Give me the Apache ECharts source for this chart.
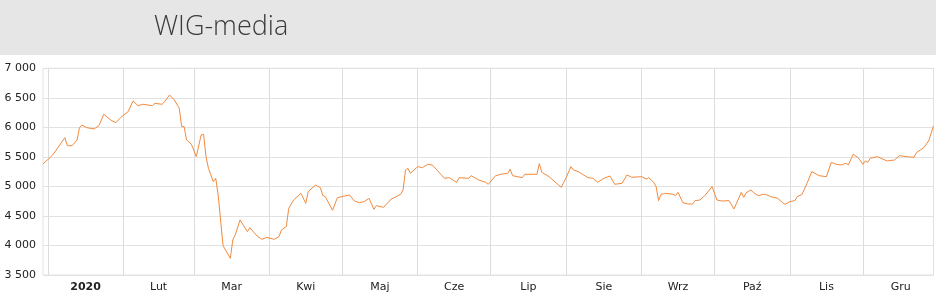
<!DOCTYPE html>
<html>
<head>
<meta charset="utf-8">
<script src="https://cdn.jsdelivr.net/npm/echarts@6/dist/echarts.min.js"></script>
<style>
html,body{margin:0;padding:0;background:#fff;}
#chart{width:936px;height:299px;}
</style>
</head>
<body>
<div id="chart"></div>
<script>
const TITLE = 'WIG-media';
const monthLabels = ['2020','Lut','Mar','Kwi','Maj','Cze','Lip','Sie','Wrz','Paź','Lis','Gru'];
const yTicks = [3500, 4000, 4500, 5000, 5500, 6000, 6500, 7000];
const dates = [
'2019-12-30','2020-01-03','2020-01-08','2020-01-09','2020-01-11','2020-01-13','2020-01-14','2020-01-15','2020-01-17','2020-01-20',
'2020-01-22','2020-01-24','2020-01-27','2020-01-29','2020-01-31','2020-02-03','2020-02-05','2020-02-07','2020-02-09','2020-02-13',
'2020-02-14','2020-02-17','2020-02-18','2020-02-20','2020-02-22','2020-02-24','2020-02-25','2020-02-26','2020-02-27','2020-02-29',
'2020-03-02','2020-03-04','2020-03-05','2020-03-06','2020-03-07','2020-03-09','2020-03-10','2020-03-11','2020-03-13','2020-03-16',
'2020-03-17','2020-03-18','2020-03-20','2020-03-23','2020-03-24','2020-03-27','2020-03-29','2020-03-31','2020-04-03','2020-04-05',
'2020-04-06','2020-04-08','2020-04-09','2020-04-11','2020-04-14','2020-04-16','2020-04-17','2020-04-20','2020-04-22','2020-04-23',
'2020-04-24','2020-04-27','2020-04-29','2020-05-04','2020-05-06','2020-05-08','2020-05-10','2020-05-12','2020-05-14','2020-05-15',
'2020-05-18','2020-05-21','2020-05-25','2020-05-26','2020-05-27','2020-05-28','2020-05-29','2020-06-01','2020-06-03','2020-06-05',
'2020-06-07','2020-06-12','2020-06-14','2020-06-17','2020-06-18','2020-06-22','2020-06-23','2020-06-26','2020-06-29','2020-06-30',
'2020-07-03','2020-07-06','2020-07-08','2020-07-09','2020-07-10','2020-07-14','2020-07-15','2020-07-20','2020-07-21','2020-07-22',
'2020-07-25','2020-07-27','2020-07-30','2020-08-01','2020-08-03','2020-08-04','2020-08-06','2020-08-10','2020-08-12','2020-08-14',
'2020-08-16','2020-08-19','2020-08-21','2020-08-24','2020-08-26','2020-08-28','2020-09-01','2020-09-03','2020-09-04','2020-09-06',
'2020-09-07','2020-09-08','2020-09-09','2020-09-11','2020-09-14','2020-09-15','2020-09-16','2020-09-18','2020-09-20','2020-09-22',
'2020-09-23','2020-09-25','2020-09-27','2020-09-30','2020-10-02','2020-10-04','2020-10-07','2020-10-09','2020-10-12','2020-10-13',
'2020-10-14','2020-10-16','2020-10-17','2020-10-19','2020-10-21','2020-10-22','2020-10-24','2020-10-27','2020-10-29','2020-10-30',
'2020-11-01','2020-11-03','2020-11-04','2020-11-06','2020-11-08','2020-11-10','2020-11-13','2020-11-16','2020-11-18','2020-11-20',
'2020-11-22','2020-11-24','2020-11-25','2020-11-27','2020-11-29','2020-12-01','2020-12-02','2020-12-03','2020-12-04','2020-12-07',
'2020-12-09','2020-12-11','2020-12-14','2020-12-16','2020-12-19','2020-12-22','2020-12-23','2020-12-26','2020-12-28','2020-12-30'
];
const values = [
5380,5532,5826,5690,5690,5786,5995,6040,5995,5973,
6030,6221,6119,6080,6170,6266,6447,6368,6390,6368,
6407,6390,6435,6548,6464,6323,6012,6012,5786,5713,
5504,5871,5882,5504,5306,5081,5137,4855,3997,3782,
4093,4178,4432,4234,4302,4160,4104,4138,4104,4150,
4262,4319,4629,4770,4883,4714,4911,5024,4979,4844,
4827,4595,4810,4855,4753,4725,4742,4798,4612,4674,
4646,4782,4866,4940,5278,5306,5222,5335,5318,5374,
5363,5137,5148,5069,5148,5137,5182,5109,5069,5036,
5182,5211,5222,5290,5182,5148,5205,5205,5386,5239,
5165,5092,4985,5148,5335,5278,5250,5148,5137,5069,
5126,5177,5036,5053,5194,5154,5165,5126,5148,5069,
4996,4759,4866,4883,4866,4844,4900,4725,4702,4702,
4759,4770,4844,4996,4770,4753,4759,4618,4900,4815,
4894,4940,4894,4844,4866,4866,4827,4798,4725,4697,
4742,4759,4827,4866,5053,5250,5182,5165,5408,5374,
5363,5391,5363,5544,5487,5374,5431,5408,5476,5504,
5465,5431,5448,5521,5504,5493,5572,5656,5769,6023
];

function ts(s){ const p = s.split('-').map(Number); return Date.UTC(p[0], p[1]-1, p[2]); }
const xMin = ts(dates[0]);
const xMax = ts(dates[dates.length-1]);
const monthStarts = [];
const monthMids = [];
for (let m = 0; m < 12; m++) {
  const a = Date.UTC(2020, m, 1), b = Date.UTC(2020, m+1, 1);
  monthStarts.push(a);
  monthMids.push((a + b) / 2);
}
const seriesData = dates.map((d, i) => [ts(d), values[i]]);

const chart = echarts.init(document.getElementById('chart'), null, {renderer: 'canvas'});
chart.setOption({
  animation: false,
  backgroundColor: '#ffffff',
  graphic: [
    {type: 'rect', left: 0, top: 0, shape: {width: 936, height: 55}, style: {fill: '#e6e6e6'}, z: -10},
    {type: 'text', left: 154, top: 14, style: {text: TITLE, fill: '#3a3a3a', font: '300 27px "Open Sans"'}}
  ],
  grid: {left: 43, right: 2.5, top: 68.3, bottom: 24, show: true, borderColor: '#e2e2e2', borderWidth: 1, containLabel: false},
  xAxis: {
    type: 'value', min: xMin, max: xMax,
    axisLine: {show: false},
    axisTick: {show: false, customValues: monthStarts},
    splitLine: {show: true, lineStyle: {color: '#dcdcdc', width: 1}},
    axisLabel: {
      customValues: monthMids,
      margin: 7,
      color: '#222', fontFamily: 'DejaVu Sans', fontSize: 11,
      formatter: function (v) {
        const m = new Date(v).getUTCMonth();
        return m === 0 ? '{b|' + monthLabels[0] + '}' : monthLabels[m];
      },
      rich: {b: {fontWeight: 'bold', fontFamily: 'DejaVu Sans', fontSize: 11, color: '#222'}}
    }
  },
  yAxis: {
    type: 'value', min: yTicks[0], max: yTicks[yTicks.length-1], interval: 500,
    axisLine: {show: false}, axisTick: {show: false},
    splitLine: {show: true, lineStyle: {color: '#e2e2e2', width: 1}},
    axisLabel: {
      margin: 7, color: '#222', fontFamily: 'DejaVu Sans', fontSize: 11,
      formatter: function (v) { return String(v).replace(/\B(?=(\d{3})+(?!\d))/g, ' '); }
    }
  },
  series: [{
    type: 'line', data: seriesData, showSymbol: false, symbol: 'none',
    lineStyle: {color: '#f28a3e', width: 1}, smooth: false
  }]
});
</script>
</body>
</html>
